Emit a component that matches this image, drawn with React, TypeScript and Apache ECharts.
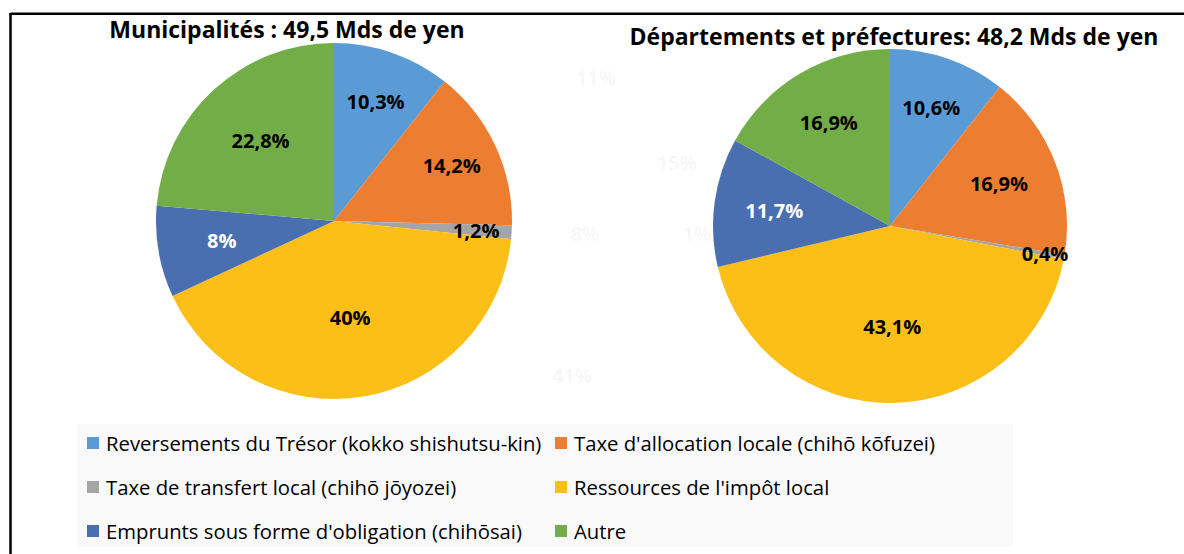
import React, { useEffect, useRef } from 'react';
import * as echarts from 'echarts';

const CATEGORIES = [
  'Reversements du Trésor (kokko shishutsu-kin)',
  "Taxe d'allocation locale (chihō kōfuzei)",
  'Taxe de transfert local (chihō jōyozei)',
  "Ressources de l'impôt local",
  "Emprunts sous forme d'obligation (chihōsai)",
  'Autre',
];
const MUNICIPALITES = [10.3, 14.2, 1.2, 40, 8, 22.8];
const DEPARTEMENTS = [10.6, 16.9, 0.4, 43.1, 11.7, 16.9];
const TITLE_MUN = 'Municipalités : 49,5 Mds de yen';
const TITLE_DEP = 'Départements et préfectures: 48,2 Mds de yen';
const GHOST_LABELS = ['11%', '15%', '8%', '1%', '41%'];

const COLORS = ['#5B9BD5', '#ED7D31', '#A5A5A5', '#FCBF17', '#4A6FB1', '#72AD47'];
const LABEL_COLORS = ['#000', '#000', '#000', '#000', '#fff', '#000'];

// layout constants
const PIES = [
  { center: [334, 221], r: 178, labelR: [0.71, 0.73, 0.8, 0.55, 0.64, 0.61] },
  { center: [890, 226], r: 177, labelR: [0.71, 0.66, 0.89, 0.57, 0.66, 0.68] },
];
const GHOST_POS = [
  [596, 77],
  [677, 162],
  [585, 233],
  [697, 233],
  [572, 375],
];

const fmt = (v: number) => String(v).replace('.', ',') + '%';

export default function App() {
  const ref = useRef<HTMLDivElement>(null);
  useEffect(() => {
    if (!ref.current) return;
    const chart = echarts.init(ref.current, undefined, { renderer: 'svg' });
    const mkSeries = (vals: number[], idx: number) => ({
      type: 'pie',
      center: PIES[idx].center,
      radius: PIES[idx].r,
      startAngle: 90,
      clockwise: true,
      avoidLabelOverlap: false,
      silent: true,
      itemStyle: { borderWidth: 0 },
      label: {
        show: true,
        position: 'inside',
        fontSize: 20,
        fontWeight: 'bold',
        fontFamily: 'Open Sans',
        formatter: (p: any) => fmt(p.value),
      },
      labelLine: { show: false },
      labelLayout: (params: any) => {
        const p = PIES[idx];
        const rect = params.labelRect;
        const lx = rect.x + rect.width / 2;
        const ly = rect.y + rect.height / 2;
        const dx = lx - p.center[0];
        const dy = ly - p.center[1];
        const d = Math.hypot(dx, dy) || 1;
        const f = p.labelR[params.dataIndex];
        const tx = p.center[0] + (dx / d) * f * p.r;
        const ty = p.center[1] + (dy / d) * f * p.r;
        return { dx: tx - lx, dy: ty - ly };
      },
      data: vals.map((v, i) => ({
        name: CATEGORIES[i],
        value: v,
        label: { color: LABEL_COLORS[i] },
      })),
    });
    const legendBase = {
      orient: 'vertical',
      top: 428,
      itemWidth: 12,
      itemHeight: 12,
      itemGap: 24,
      icon: 'rect',
      selectedMode: false,
      textStyle: { fontSize: 20.3, fontFamily: 'Open Sans', color: '#000', padding: [0, 0, 0, 2] },
    };
    chart.setOption({
      animation: false,
      color: COLORS,
      legend: [
        { ...legendBase, left: 82, data: [CATEGORIES[0], CATEGORIES[2], CATEGORIES[4]] },
        { ...legendBase, left: 550, data: [CATEGORIES[1], CATEGORIES[3], CATEGORIES[5]] },
      ],
      graphic: [
        {
          type: 'rect',
          z: -10,
          shape: { x: 77, y: 424, width: 936, height: 123 },
          style: { fill: '#f9f9f9' },
          silent: true,
        },
        {
          type: 'line',
          shape: { x1: 10.5, y1: 13.8, x2: 1184, y2: 13.8 },
          style: { stroke: '#000', lineWidth: 2.5 },
        },
        {
          type: 'line',
          shape: { x1: 10.5, y1: 13, x2: 10.5, y2: 554 },
          style: { stroke: '#000', lineWidth: 2.5 },
        },
        ...GHOST_LABELS.map((t, i) => ({
          type: 'text',
          z: -5,
          style: {
            text: t,
            x: GHOST_POS[i][0],
            y: GHOST_POS[i][1],
            fill: '#f7f7f7',
            font: '600 20px "Open Sans"',
            textAlign: 'center',
            textVerticalAlign: 'middle',
          },
        })),
        {
          type: 'text',
          style: {
            text: TITLE_MUN,
            x: 287,
            y: 29,
            fill: '#000',
            font: 'bold 23px "Open Sans"',
            textAlign: 'center',
            textVerticalAlign: 'middle',
          },
        },
        {
          type: 'text',
          style: {
            text: TITLE_DEP,
            x: 894,
            y: 36,
            fill: '#000',
            font: 'bold 23px "Open Sans"',
            textAlign: 'center',
            textVerticalAlign: 'middle',
          },
        },
      ],
      series: [mkSeries(MUNICIPALITES, 0), mkSeries(DEPARTEMENTS, 1)],
    });
    return () => chart.dispose();
  }, []);
  return (
    <div
      ref={ref}
      style={{ position: 'fixed', left: 0, top: 0, width: 1184, height: 554, background: '#fff' }}
    />
  );
}
